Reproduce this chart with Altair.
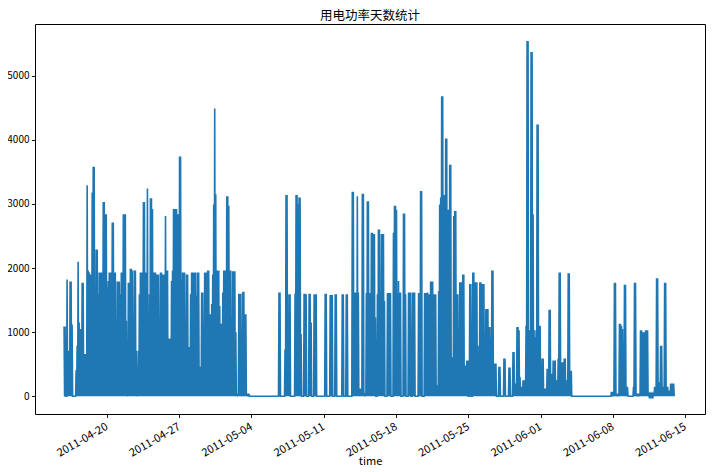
import altair as alt
import pandas as pd

# Power trace: one peak per 140-minute slot,
# starting 2011-04-15 21:00; between peaks the trace falls back to 0.
START = "2011-04-15 21:00"
STEP = "140min"

apr_watts = [
    1090, 1090, 0, 1820, 710, 710, 1790, 1790, 1120, 0,
    0, 0, 410, 790, 2100, 1150, 1050, 1050, 1770, 1770,
    660, 660, 660, 3290, 1960, 1930, 1900, 1900, 3180, 3580,
    3580, 660, 2290, 2290, 1590, 1930, 1930, 1930, 1930, 3030,
    3030, 2840, 2840, 1700, 1800, 1930, 1930, 1930, 2710, 2710,
    1930, 1930, 100, 1790, 1790, 1790, 1590, 1930, 1930, 2840,
    2840, 2840, 1180, 50, 1770, 1770, 1990, 1990, 1960, 1200,
    1960, 1960, 710, 50, 710, 1590, 1930, 1930, 1930, 3030,
    3030, 1930, 1930, 3240, 300, 1590, 3090, 3090, 2920, 1930,
    1930, 1930, 1900, 1900, 1900, 790, 1930, 1930, 1900, 1900,
    1900, 2810, 1960, 1960, 900, 900, 900, 1800, 1960, 2920,
    2920, 2920, 2920, 2840, 2840, 3740, 3740, 1800, 1930, 1930,
    1930, 790, 1900, 1900, 770, 770, 1590, 1930, 1930, 1930,
    1930, 1930, 1570, 1930, 1930, 460, 460, 1620, 1620, 900,
    1930, 1930, 1930, 1960, 1960, 1280, 1280, 1440, 1900, 2990,
    4490, 3150, 1960, 1960, 1960, 1410, 1130, 1130, 1620, 1960,
    1960, 1960, 3120, 3120, 2970, 1960, 1960, 250, 1950, 1950,
    1950, 1000, 40, 40, 1600, 1600, 1600, 40, 1630, 1630,
    1280, 1280, 40, 40, 40,
]

may_gap_watts = [0] * 29

may_watts = [
    1620, 1620, 0, 0, 0, 0, 730, 3140, 3140, 250,
    1590, 1590, 0, 0, 0, 0, 1600, 3140, 3140, 2990,
    3100, 3100, 970, 0, 0, 1600, 1600, 1590, 0, 0,
    1600, 1600, 1150, 0, 0, 1590, 1590, 1590, 0, 0,
    0, 0, 0, 0, 0, 0, 1600, 1600, 0, 0,
    0, 1580, 1580, 1580, 0, 0, 1590, 1590, 0, 0,
    0, 0, 0, 1590, 1590, 0, 0, 1590, 1590, 0,
    0, 0, 0, 3190, 3190, 1620, 1620, 1620, 3120, 1620,
    120, 120, 120, 3160, 3160, 50, 50, 1610, 3040, 3040,
    1610, 1610, 2550, 2550, 2530, 2530, 1230, 0, 1590, 2600,
    2600, 1570, 2530, 2530, 2530, 1490, 0, 0, 1610, 1610,
    1610, 1610, 0, 0, 2550, 2970, 2970, 2910, 1590, 1800,
    1620, 1620, 0, 0, 2850, 2850, 1590, 0, 0, 1620,
    1620, 1620, 0, 1620, 1620, 1620, 0, 0, 0, 1610,
    1610, 3200, 3200, 0, 0, 1610, 1610, 1610, 1620, 1590,
    1590, 1790, 1790, 1790, 1590, 1590, 1590, 170, 170, 1640,
    2990, 3100, 4680, 4680, 3140, 3140, 4020, 4020, 2910, 2910,
    3610, 3610, 610, 610, 2810, 2890, 2890, 1590, 1590, 970,
    1780, 1780, 1780, 1900, 1900, 480, 480, 560, 560, 0,
    1750, 1750, 0, 1930, 1930, 1780, 1780, 1780, 790, 200,
    1780, 1780, 1750, 1750, 1750, 510, 1360, 1360, 1360, 1080,
    1080, 530, 1960, 1960, 510, 510, 510, 0, 0, 460,
    460, 0, 0, 0, 590, 590, 0, 0, 0, 450,
    450, 0, 0, 690, 690, 200, 200, 1080, 1080, 1030,
    300, 150, 150, 250, 250, 100, 1100, 5540, 5540, 1030,
    1030, 5370, 5370, 2840, 1030, 920, 1030, 4240, 4240, 1100,
    1100, 120, 590, 590, 120, 120, 120, 430, 430, 1350,
    1350, 350, 350, 560, 560, 560, 250, 250, 590, 1930,
    1930, 90, 530, 530, 590, 590, 250, 250, 1920, 1920,
    400, 400,
]

jun_gap_watts = [0] * 39

jun_watts = [
    70, 70, 70, 1770, 1770, 40, 40, 40, 1130, 1130,
    1100, 1050, 90, 1740, 1740, 150, 150, 0, 0, 0,
    0, 0, 150, 1770, 1770, 40, 40, 40, 40, 1030,
    1030, 1000, 1000, 1000, 1030, 1030, 1030, 30, 30, 30,
    30, 30, 30, 150, 150, 1840, 1840, 220, 220, 790,
    790, 150, 150, 1770, 1770, 150, 150, 90, 90, 200,
    200, 200, 200,
]

tick_dates = ["2011-04-20", "2011-04-27", "2011-05-04", "2011-05-11", "2011-05-18",
              "2011-05-25", "2011-06-01", "2011-06-08", "2011-06-15"]
y_ticks = [0, 1000, 2000, 3000, 4000, 5000]

peaks = apr_watts + may_gap_watts + may_watts + jun_gap_watts + jun_watts
slots = pd.date_range(START, periods=len(peaks), freq=STEP)
half = pd.Timedelta(minutes=70)
rows = []
for t, v in zip(slots, peaks):
    rows.append({"time": t.strftime("%Y-%m-%dT%H:%M:%S"), "power": v})
    rows.append({"time": (t + half).strftime("%Y-%m-%dT%H:%M:%S"), "power": 0})
df = pd.DataFrame(rows)


def dt(s, h=0, m=0):
    y, mo, d = (int(p) for p in s.split("-"))
    return alt.DateTime(year=y, month=mo, date=d, hours=h, minutes=m)


FONT = "Noto Sans CJK SC"

chart = alt.Chart(df).mark_line(color="#1f77b4", strokeWidth=1.6, clip=True).encode(
    x=alt.X(
        "time:T",
        scale=alt.Scale(domain=[dt("2011-04-13", 1, 27), dt("2011-06-16", 22, 5)]),
        axis=alt.Axis(
            values=[dt(s) for s in tick_dates],
            format="%Y-%m-%d",
            labelAngle=-30,
            labelAlign="right",
            labelBaseline="top",
            labelOffset=-3,
            labelPadding=3,
            labelFontSize=11,
            title="time",
            titleY=41,
            titleBaseline="top",
            grid=False,
        ),
    ),
    y=alt.Y(
        "power:Q",
        scale=alt.Scale(domain=[-276, 5806], nice=False, zero=False),
        axis=alt.Axis(values=y_ticks, format="d", title=None, grid=False,
                      labelPadding=2.5, labelFontSize=10),
    ),
).properties(
    width=670,
    height=390,
    title=alt.TitleParams("用电功率天数统计", font=FONT, fontSize=12.5, fontWeight="normal",
                          color="#000", offset=2, anchor="middle"),
    autosize=alt.AutoSizeParams(type="none"),
    padding={"left": 27, "top": 16, "right": 1, "bottom": 56},
).configure_view(
    stroke="#000", strokeWidth=1
).configure_axis(
    domain=False,
    tickColor="#000",
    tickSize=3.5,
    tickWidth=0.9,
    labelFont=FONT,
    labelColor="#000",
    titleFont=FONT,
    titleFontSize=11,
    titleFontWeight="normal",
    titleColor="#000",
)

chart.save("out.html", embed_options={"renderer": "svg", "actions": False})
